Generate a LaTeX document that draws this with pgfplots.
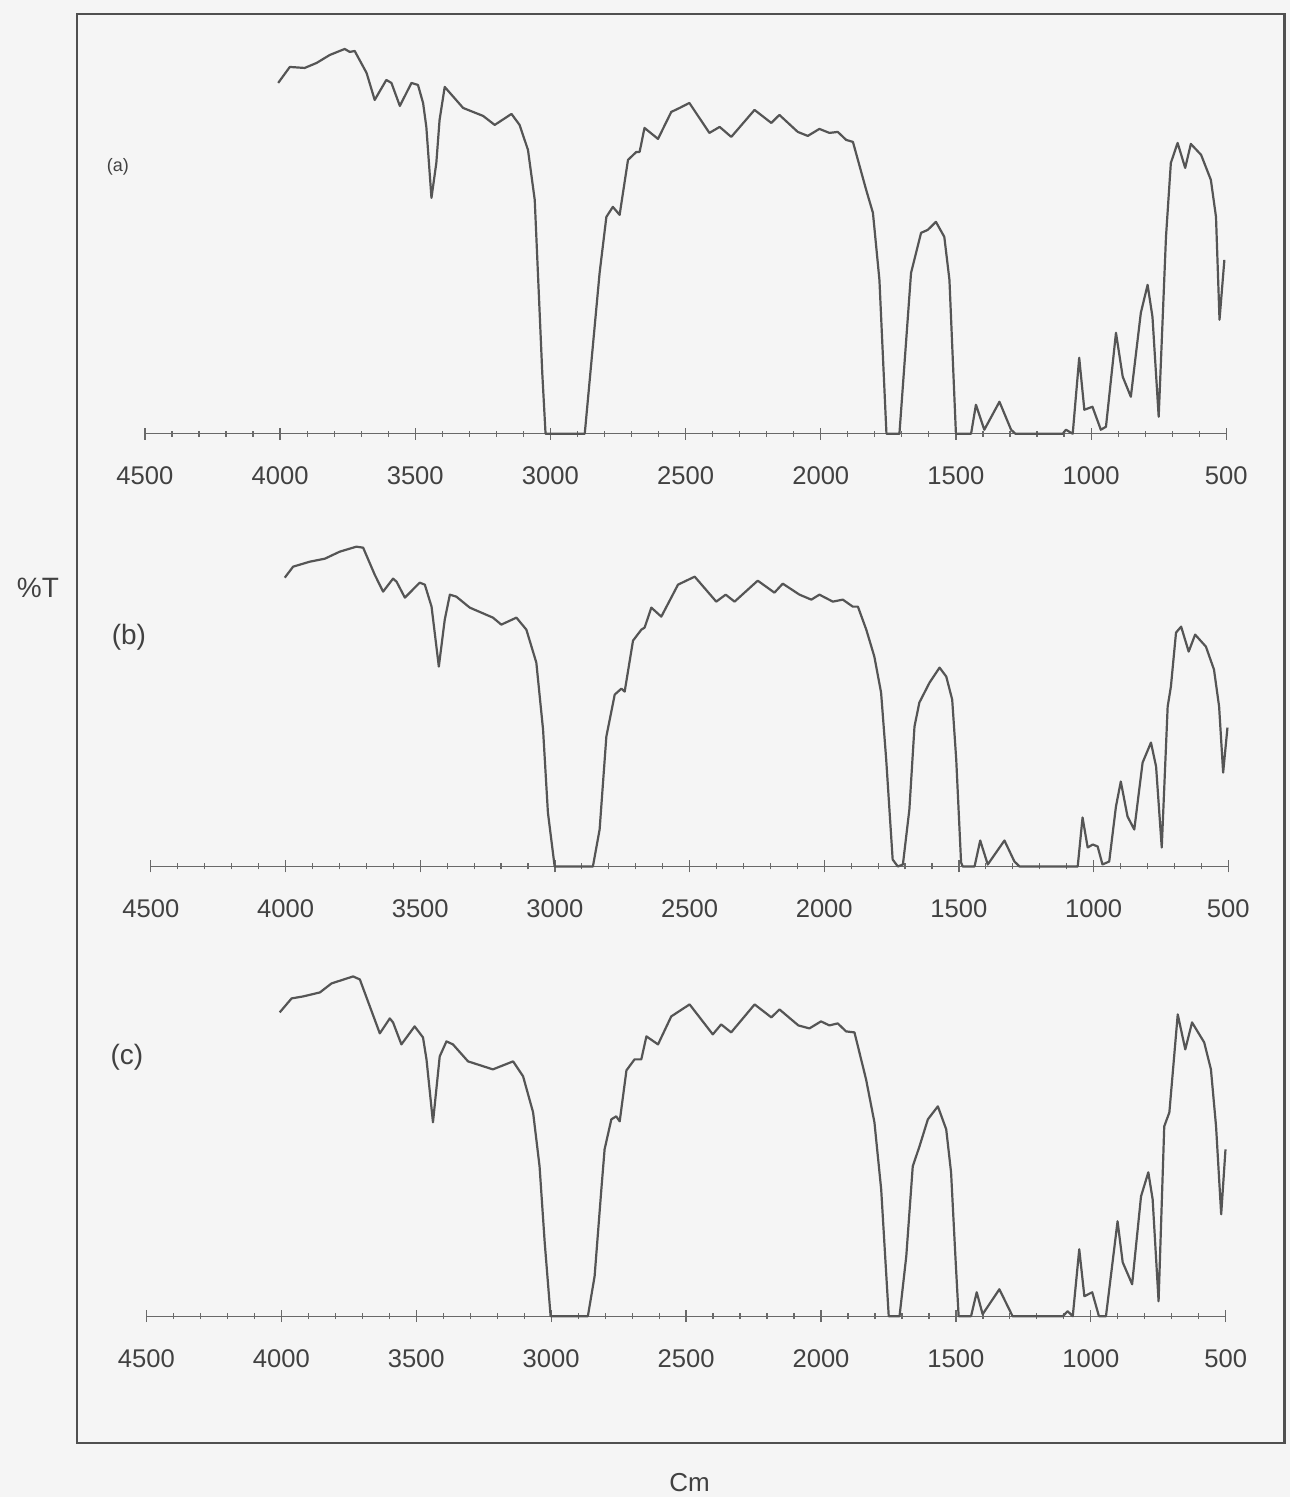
\documentclass[border=0pt]{standalone}
\usepackage{pgfplots}
\pgfplotsset{compat=1.18}
\usepackage{pgfplotstable}
\usepackage{fontspec}
\setmainfont{Liberation Sans}
\definecolor{linegray}{RGB}{85,85,85}
\definecolor{axisgray}{RGB}{105,105,105}
\definecolor{txtgray}{RGB}{65,65,65}
\definecolor{bggray}{RGB}{245,245,245}

\pgfplotstableread{
w v
4007 351
3964 367
3909 366
3865 371
3816 379
3761 385
3742 382
3724 383
3680 361
3650 334
3607 354
3588 351
3557 328
3514 351
3490 349
3471 331
3459 307
3440 236
3422 271
3410 314
3391 347
3323 326
3249 318
3206 309
3144 320
3114 309
3083 284
3058 234
3030 60
3018 0
2873 0
2818 161
2793 217
2769 227
2744 219
2713 274
2682 282
2670 282
2652 306
2602 295
2553 322
2522 326
2486 331
2412 301
2374 307
2331 297
2245 324
2183 311
2153 319
2085 302
2048 298
2005 305
1968 301
1937 302
1906 294
1881 292
1832 244
1807 221
1783 154
1757 0
1709 0
1666 161
1629 201
1604 204
1574 212
1543 197
1524 154
1500 0
1444 0
1426 29
1395 4
1339 32
1296 4
1280 0
1105 0
1093 4
1068 0
1044 76
1025 24
995 27
964 4
945 7
908 101
883 57
853 37
816 121
791 149
773 117
750 17
723 197
705 271
680 291
652 266
631 290
593 279
557 254
538 217
525 114
507 174
}\tabA

\pgfplotstableread{
w v
4003 289
3972 300
3910 305
3854 308
3799 315
3737 320
3712 319
3669 292
3638 275
3601 288
3588 285
3557 269
3502 284
3483 282
3458 260
3431 200
3409 247
3390 272
3366 270
3316 259
3230 249
3199 242
3143 249
3106 237
3069 204
3044 137
3026 54
3001 0
2859 0
2834 37
2809 130
2778 172
2753 178
2741 175
2710 226
2679 237
2667 239
2642 259
2605 250
2543 282
2481 290
2401 265
2366 272
2333 265
2247 286
2185 274
2154 283
2092 272
2048 267
2018 272
1968 265
1931 267
1894 260
1875 260
1844 237
1814 210
1789 174
1770 107
1746 7
1727 0
1708 2
1684 57
1665 140
1647 164
1609 184
1572 199
1547 190
1525 167
1510 107
1492 4
1486 0
1442 0
1421 26
1393 2
1331 26
1294 5
1275 0
1059 0
1041 49
1022 19
1003 22
985 20
967 2
942 5
917 60
899 85
874 50
849 37
818 104
787 124
768 100
747 19
725 160
713 180
694 234
675 240
647 215
623 232
583 220
553 197
534 160
519 94
503 139
}\tabB

\pgfplotstableread{
w v
4006 304
3962 318
3919 320
3857 324
3814 333
3734 340
3709 337
3672 310
3635 283
3598 298
3586 294
3555 272
3506 290
3475 279
3462 257
3438 194
3413 260
3388 275
3364 272
3308 255
3216 247
3141 255
3104 240
3067 204
3043 150
3024 74
3002 0
2864 0
2839 40
2814 127
2802 167
2777 197
2759 200
2746 195
2721 246
2691 257
2666 257
2647 280
2604 272
2555 300
2487 312
2401 282
2370 292
2333 284
2246 312
2184 299
2154 307
2084 291
2043 288
2000 295
1969 291
1938 293
1907 285
1876 284
1833 237
1802 194
1777 127
1749 0
1709 0
1684 60
1660 150
1635 170
1604 197
1567 210
1536 187
1518 144
1502 60
1490 0
1444 0
1423 24
1401 2
1339 27
1290 0
1104 0
1086 5
1067 0
1043 67
1024 20
995 24
970 0
944 0
901 95
882 54
847 32
814 120
787 144
771 117
749 15
728 190
709 204
678 302
650 267
625 294
580 274
555 247
536 190
517 102
501 167
}\tabC

\pgfplotsset{
  irpanel/.style={
    scale only axis, height=200pt,
    xmin=500, xmax=4500, ymin=0, ymax=400, x dir=reverse,
    axis x line=bottom, axis y line=none,
    x axis line style={-, draw=axisgray, line width=0.7pt},
    xtick={500,1000,...,4500}, minor x tick num=4,
    tick align=center, major tick length=6pt, minor tick length=3pt,
    every tick/.style={axisgray, line width=0.6pt},
    xticklabel style={font=\fontsize{12.8}{14}\selectfont, text=txtgray, yshift=-10pt},
    /pgf/number format/assume math mode=true,
    /pgf/number format/1000 sep={},
    clip=false, anchor=south west,
  },
  irline/.style={color=linegray, line width=1.1pt, line join=round, no markers},
}

\begin{document}
\begin{tikzpicture}[x=1pt,y=1pt]
\fill[bggray] (0,0) rectangle (645.5,749);
\draw[color={rgb,255:red,80;green,80;blue,80}, line width=1.3pt] (38.5,27) rectangle (642.5,742);

\begin{axis}[irpanel, width=541pt, at={(72.5pt,532pt)}]
\addplot[irline] table[x=w,y=v] {\tabA};
\end{axis}

\begin{axis}[irpanel, width=539pt, at={(75.5pt,315.5pt)}]
\addplot[irline] table[x=w,y=v] {\tabB};
\end{axis}

\begin{axis}[irpanel, width=540pt, at={(73.25pt,90.5pt)}]
\addplot[irline] table[x=w,y=v] {\tabC};
\end{axis}

\node[text=txtgray, font=\fontsize{9}{10}\selectfont] at (59,665.5) {(a)};
\node[text=txtgray, font=\fontsize{14}{16}\selectfont] at (64.5,430) {(b)};
\node[text=txtgray, font=\fontsize{14}{16}\selectfont] at (63.5,220) {(c)};
\node[text=txtgray, font=\fontsize{14}{16}\selectfont] at (19,455) {\%T};
\node[text=txtgray, font=\fontsize{13}{15}\selectfont] at (345,7.5) {Cm};
\end{tikzpicture}
\end{document}
